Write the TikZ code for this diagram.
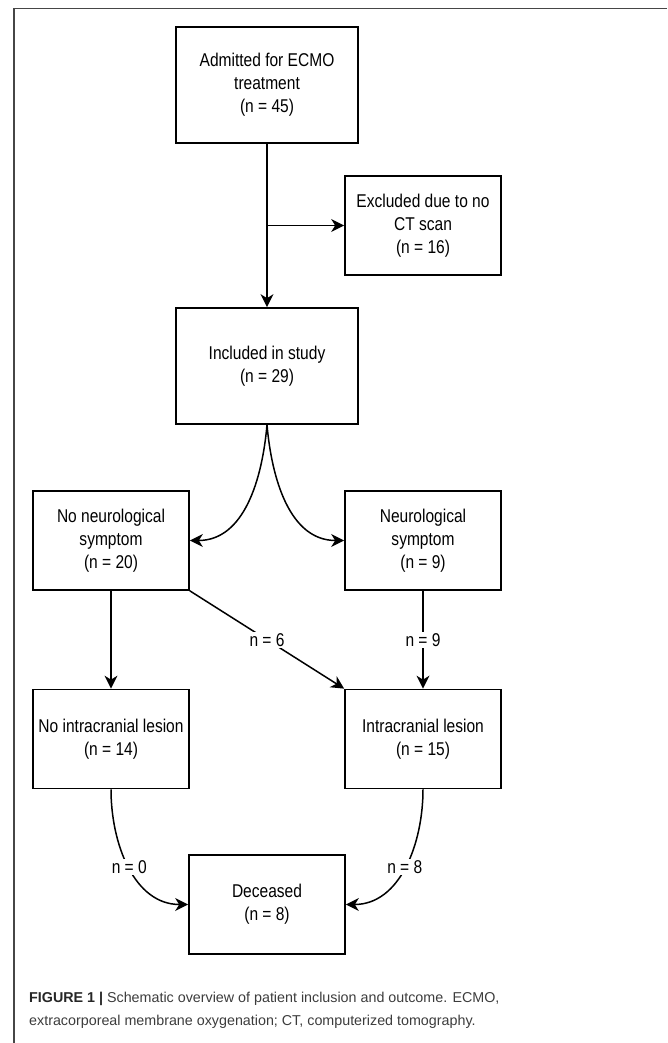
\documentclass[tikz,border=0pt]{standalone}
\usepackage{fontspec}
\newfontfamily\diagfont{Liberation Sans}[FakeStretch=0.84]
\newfontfamily\captfont{Liberation Sans}
\usetikzlibrary{arrows.meta}
\definecolor{marco}{RGB}{70,70,70}
\definecolor{leyenda}{RGB}{60,60,60}
\begin{document}
\begin{tikzpicture}[x=1pt,y=1pt]
\tikzset{nodo/.style={rectangle,minimum width=156pt,minimum height=99pt,inner sep=0pt,draw,line width=1.7pt,align=center,font=\diagfont\fontsize{18.5}{23}\selectfont}}
\tikzset{nodo2/.style={nodo,minimum width=182pt,minimum height=116pt}}
\tikzset{nodo1/.style={fill=white,inner sep=1.5pt,font=\diagfont\fontsize{18.5}{23}\selectfont}}
\tikzset{flecha/.style={-{Stealth[length=13pt,width=13pt,inset=4pt]},line width=1.5pt}}

  \useasboundingbox (0,0) rectangle (667,-1043);
  \draw[marco,line width=1.1pt] (667,-8.5) -- (14,-8.5) -- (14,-1043);

  \draw (267,-85) node[nodo2](adm) {Admitted for ECMO\\treatment\\(n = 45)};
  \draw (423,-225.5) node[nodo](exc) {Excluded due to no\\CT scan\\(n = 16)};
  \draw (267,-366) node[nodo2](inc) {Included in study\\(n = 29)};
  \draw (111,-540.5) node[nodo](nns) {No neurological\\symptom\\(n = 20)};
  \draw (423,-540.5) node[nodo](ns) {Neurological\\symptom\\(n = 9)};
  \draw (111,-739) node[nodo](nil) {No intracranial lesion\\(n = 14)};
  \draw (423,-739) node[nodo](il) {Intracranial lesion\\(n = 15)};
  \draw (267,-904.5) node[nodo](dec) {Deceased\\(n = 8)};

  \draw [flecha] (adm) -- (inc);
  \draw [flecha] (adm.south |- exc.west) -- (exc.west);
  \draw [flecha] (inc.south) to [out=-95,in=0] (nns.east);
  \draw [flecha] (inc.south) to [out=-85,in=180] (ns.west);
  \draw [flecha] (nns) -- (nil);
  \draw [flecha] (nns.south east) -- node[nodo1]{n = 6} (il.north west);
  \draw [flecha] (ns) -- node[nodo1]{n = 9} (il);
  \draw [flecha] (nil.south) to [out=-90,in=180] node[nodo1]{n = 0} (dec.west);
  \draw [flecha] (il.south) to [out=-90,in=0] node[nodo1]{n = 8} (dec.east);

  \node[anchor=north west,align=left,inner sep=0pt,text=leyenda,font=\captfont\fontsize{14.3}{23}\selectfont] (cap) at (29,-991.5)
    {\textcolor{black!85}{\textbf{FIGURE 1 |}} Schematic overview of patient inclusion and outcome. ECMO,\\extracorporeal membrane oxygenation; CT, computerized tomography.};
\end{tikzpicture}
\end{document}
